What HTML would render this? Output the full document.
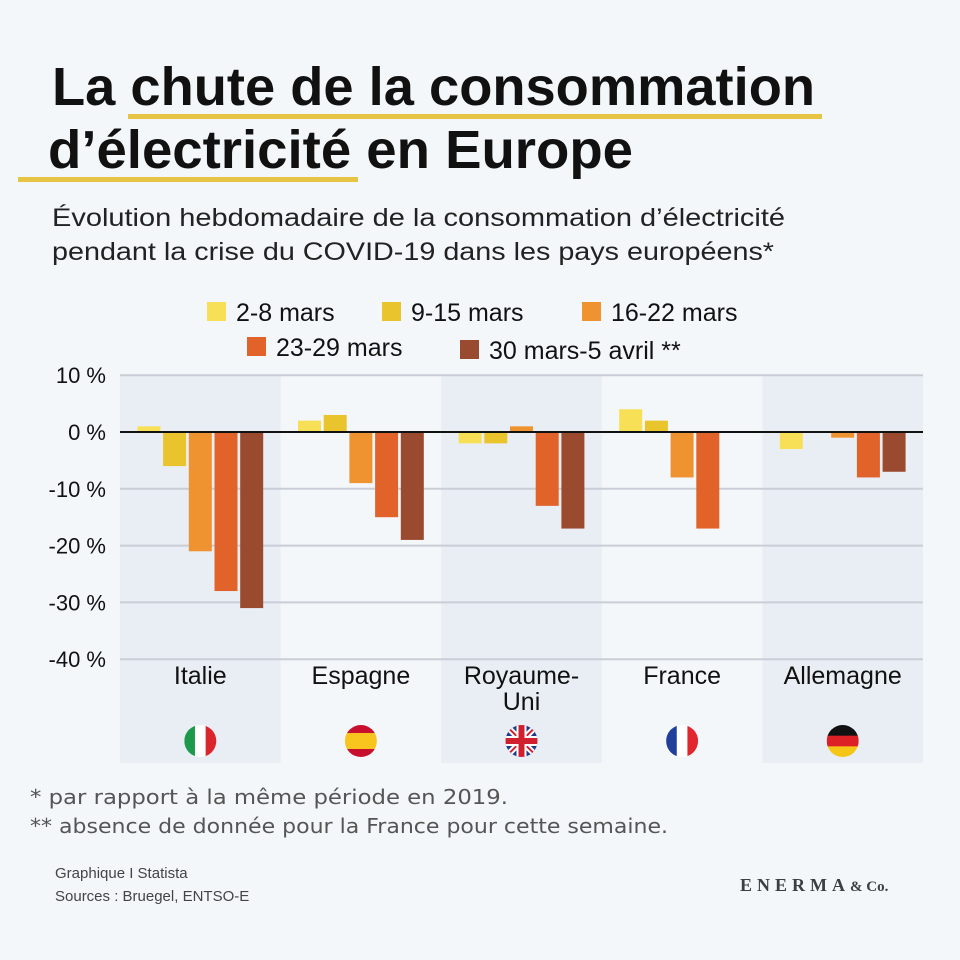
<!DOCTYPE html>
<html><head><meta charset="utf-8"><style>
html,body{margin:0;padding:0;background:#f3f7f9;}
svg{display:block;font-family:"Liberation Sans",sans-serif;}
</style></head><body>
<svg id="chart" width="960" height="960" viewBox="0 0 960 960" xmlns="http://www.w3.org/2000/svg">
<rect width="960" height="960" fill="#f3f7f9"/>
<rect x="128" y="114" width="694" height="5" fill="#e6c545"/>
<rect x="18" y="177" width="340" height="5" fill="#e6c545"/>
<text x="52" y="105" font-size="54" font-weight="bold" fill="#111" textLength="763" lengthAdjust="spacingAndGlyphs">La chute de la consommation</text>
<text x="48" y="168" font-size="54" font-weight="bold" fill="#111" textLength="585" lengthAdjust="spacingAndGlyphs">d’électricité en Europe</text>
<text x="52" y="226" font-size="25" fill="#222" textLength="733" lengthAdjust="spacingAndGlyphs">Évolution hebdomadaire de la consommation d’électricité</text>
<text x="52" y="260" font-size="25" fill="#222" textLength="722" lengthAdjust="spacingAndGlyphs">pendant la crise du COVID-19 dans les pays européens*</text>
<g id="legend"></g>
<g id="bands"></g>
<g id="grid"></g>
<g id="bars"></g>
<g id="labels"></g>
<g id="flags"></g>
<text x="30" y="804" font-size="20" fill="#555" font-family="DejaVu Sans,sans-serif" textLength="478" lengthAdjust="spacingAndGlyphs">*    par rapport à la même période en 2019.</text>
<text x="30" y="833" font-size="20" fill="#555" font-family="DejaVu Sans,sans-serif" textLength="638" lengthAdjust="spacingAndGlyphs">** absence de donnée pour la France pour cette semaine.</text>
<text x="55" y="878" font-size="15" fill="#444">Graphique I Statista</text>
<text x="55" y="901" font-size="15" fill="#444">Sources : Bruegel, ENTSO-E</text>
<text x="740" y="891" font-size="18" font-weight="bold" fill="#3a3f44" font-family="Liberation Serif,serif" letter-spacing="5">ENERMA<tspan font-size="15" letter-spacing="0">&amp; Co.</tspan></text>
</svg>
<script>
const categories = ["Italie","Espagne","Royaume-Uni","France","Allemagne"];
const seriesNames = ["2-8 mars","9-15 mars","16-22 mars","23-29 mars","30 mars-5 avril **"];
const s1 = [1, 2, -2, 4, -3];
const s2 = [-6, 3, -2, 2, 0];
const s3 = [-21, -9, 1, -8, -1];
const s4 = [-28, -15, -13, -17, -8];
const s5 = [-31, -19, -17, null, -7];
const yTicks = [10, 0, -10, -20, -30, -40];
const yTickLabels = ["10 %","0 %","-10 %","-20 %","-30 %","-40 %"];
const series = [s1,s2,s3,s4,s5];
const colors = ["#f7e055","#e9c42c","#ef9230","#e2632a","#9a4a2e"];
const NS = "http://www.w3.org/2000/svg";
function mk(tag, attrs, parent){const e=document.createElementNS(NS,tag);for(const k in attrs)e.setAttribute(k,attrs[k]);parent.appendChild(e);return e;}
const x0=120, x1=923, bw=(x1-x0)/categories.length;
function y(v){return 432 - v*5.68;}
function bandX(i){return x0+i*bw;}
const bands=document.getElementById('bands');
categories.forEach((c,i)=>{
  const r=mk('rect',{x:bandX(i),y:375,width:bw,height:388,fill:i%2===0?'#e9eef4':'#f4f7fa'},bands);
  
  
});
const grid=document.getElementById('grid');
yTicks.forEach((t,i)=>{
  if(t!==0){const l=mk('line',{x1:x0,x2:x1,y1:y(t),y2:y(t),stroke:'#c9ced6','stroke-width':2},grid);
  
  }
  const tx=mk('text',{x:106,y:y(t)+8,'font-size':22,fill:'#111','text-anchor':'end'},grid);
  tx.textContent=yTickLabels[i];
  
  
});
const bars=document.getElementById('bars');
const barW=23, stride=25.7;
categories.forEach((c,i)=>{
  const cx=bandX(i)+bw/2;
  series.forEach((s,j)=>{
    const v=s[i]; if(v===null||v===0) return;
    const bx=cx+(j-2)*stride-barW/2;
    const r=mk('rect',{x:bx,y:Math.min(y(v),y(0)),width:barW,height:Math.abs(y(v)-y(0)),fill:colors[j]},bars);
    
    
  });
});
const zl=mk('line',{x1:x0,x2:x1,y1:y(0),y2:y(0),stroke:'#111','stroke-width':2},bars);


const labels=document.getElementById('labels');
categories.forEach((c,i)=>{
  const cx=bandX(i)+bw/2;
  const parts=c==="Royaume-Uni"?["Royaume-","Uni"]:[c];
  parts.forEach((p,k)=>{
    const t=mk('text',{x:cx,y:684+k*26,'font-size':25,fill:'#111','text-anchor':'middle'},labels);
    t.textContent=p;
    
    
  });
});
const flags=document.getElementById('flags');
const defs=mk('defs',{},flags);
const flagSpecs={
 "Italie":{dir:'v',c:['#1a9a4a','#ffffff','#d9262c']},
 "Espagne":{dir:'h',c:['#c8102e','#f7c51e','#f7c51e','#c8102e']},
 "France":{dir:'v',c:['#1f3f9a','#ffffff','#e2262e']},
 "Allemagne":{dir:'h',c:['#111111','#dd1f26','#f5c518']}
};
categories.forEach((c,i)=>{
  const cx=bandX(i)+bw/2, cy=741, r=16;
  const cp=mk('clipPath',{id:'cp'+i},defs);
  mk('circle',{cx:cx,cy:cy,r:r},cp);
  const g=mk('g',{'clip-path':'url(#cp'+i+')'},flags);
  
  
  const f=flagSpecs[c];
  if(f){
    const n=f.c.length;
    f.c.forEach((col,k)=>{
      if(f.dir==='v') mk('rect',{x:cx-r+k*2*r/n,y:cy-r,width:2*r/n+0.5,height:2*r,fill:col},g);
      else mk('rect',{x:cx-r,y:cy-r+k*2*r/n,width:2*r,height:2*r/n+0.5,fill:col},g);
    });
  } else {
    mk('rect',{x:cx-r,y:cy-r,width:2*r,height:2*r,fill:'#1f3a8a'},g);
    mk('line',{x1:cx-r,y1:cy-r,x2:cx+r,y2:cy+r,stroke:'#fff','stroke-width':6},g);
    mk('line',{x1:cx+r,y1:cy-r,x2:cx-r,y2:cy+r,stroke:'#fff','stroke-width':6},g);
    mk('line',{x1:cx-r,y1:cy-r,x2:cx+r,y2:cy+r,stroke:'#d0202e','stroke-width':2},g);
    mk('line',{x1:cx+r,y1:cy-r,x2:cx-r,y2:cy+r,stroke:'#d0202e','stroke-width':2},g);
    mk('rect',{x:cx-5,y:cy-r,width:10,height:2*r,fill:'#fff'},g);
    mk('rect',{x:cx-r,y:cy-5,width:2*r,height:10,fill:'#fff'},g);
    mk('rect',{x:cx-3,y:cy-r,width:6,height:2*r,fill:'#d0202e'},g);
    mk('rect',{x:cx-r,y:cy-3,width:2*r,height:6,fill:'#d0202e'},g);
  }
});
const legend=document.getElementById('legend');
const legPos=[[207,302],[382,302],[582,302],[247,337],[460,340]];
seriesNames.forEach((s,j)=>{
  const g=mk('g',{},legend);
  
  
  const [lx,ly]=legPos[j];
  mk('rect',{x:lx,y:ly,width:19,height:19,fill:colors[j]},g);
  const t=mk('text',{x:lx+29,y:ly+19,'font-size':25,fill:'#111'},g);
  t.textContent=s;
});
</script>
</body></html>
